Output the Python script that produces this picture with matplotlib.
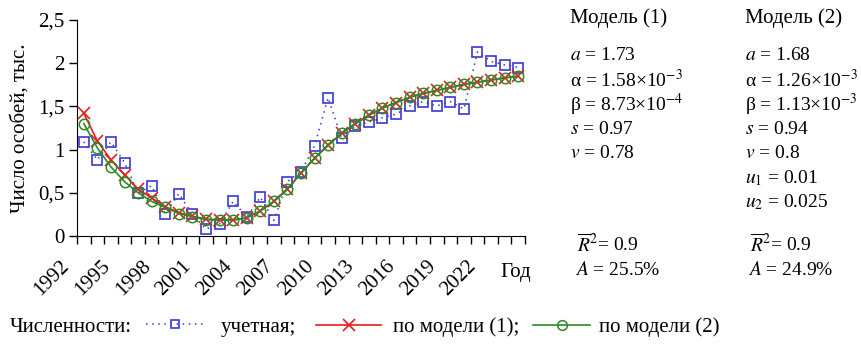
import numpy as np
import matplotlib
matplotlib.use("Agg")
import matplotlib.pyplot as plt
import matplotlib.transforms as mtransforms
from matplotlib.lines import Line2D

plt.rcParams['font.family'] = ['Liberation Serif', 'DejaVu Serif']
plt.rcParams['mathtext.fontset'] = 'stix'
plt.rcParams['font.size'] = 15

years = np.arange(1992, 2025)

# учетная численность
observed = [1.09, 0.88, 1.09, 0.85, 0.50, 0.58, 0.26, 0.49, 0.25, 0.08,
            0.14, 0.40, 0.22, 0.45, 0.18, 0.63, 0.745, 1.045, 1.60, 1.13,
            1.27, 1.32, 1.37, 1.41, 1.505, 1.555, 1.505, 1.555, 1.47, 2.13,
            2.02, 1.98, 1.95]
# по модели (1)
model1 = [1.42, 1.10, 0.88, 0.71, 0.54, 0.44, 0.34, 0.27, 0.23, 0.195,
          0.185, 0.185, 0.21, 0.29, 0.40, 0.54, 0.73, 0.90, 1.05, 1.19,
          1.30, 1.40, 1.48, 1.545, 1.605, 1.65, 1.685, 1.72, 1.755, 1.78,
          1.805, 1.83, 1.85]
# по модели (2)
model2 = [1.30, 1.02, 0.80, 0.63, 0.50, 0.40, 0.33, 0.26, 0.225, 0.19,
          0.185, 0.185, 0.21, 0.29, 0.40, 0.54, 0.73, 0.90, 1.05, 1.19,
          1.30, 1.40, 1.48, 1.545, 1.605, 1.65, 1.685, 1.72, 1.755, 1.78,
          1.805, 1.83, 1.85]

year_labels = list(range(1992, 2023, 3))
y_ticks = [0, 0.5, 1, 1.5, 2, 2.5]
y_labels = ['0', '0,5', '1', '1,5', '2', '2,5']

model1_text = ['$a$ = 1.73', 'α = 1.58×10$^{-3}$', 'β = 8.73×10$^{-4}$',
               '$s$ = 0.97', '$v$ = 0.78']
model2_text = ['$a$ = 1.68', 'α = 1.26×10$^{-3}$', 'β = 1.13×10$^{-3}$',
               '$s$ = 0.94', '$v$ = 0.8', '$u_1$ = 0.01', '$u_2$ = 0.025']
fit_text = [('$\\overline{R}^2$= 0.9', '$A$ = 25.5%'), ('$\\overline{R}^2$= 0.9', '$A$ = 24.9%')]

blue = '#3a3ad0'
red = '#e61e1e'
green = '#2a8a2a'

W, H = 861, 352
fig = plt.figure(figsize=(W / 100, H / 100), dpi=100)
ax = fig.add_axes([77 / W, 116 / H, 448 / W, 216 / H])

ax.plot(years, observed, color=blue, lw=1.1, dashes=(1, 3), marker='s', ms=7.5,
        mfc='none', mec=blue, mew=1.2, zorder=3)
ax.plot(years, model1, color=red, lw=1.2, marker='x', ms=8, mew=1.2, zorder=4)
ax.plot(years, model2, color=green, lw=1.2, marker='o', ms=7.5, mfc='none',
        mew=1.1, zorder=5)

ax.set_xlim(1991.5, 2024.5)
ax.set_ylim(0, 2.5)
ax.spines['top'].set_visible(False)
ax.spines['right'].set_visible(False)

ax.set_yticks(y_ticks)
ax.set_yticklabels(y_labels)
ax.tick_params(axis='y', length=6, width=1, pad=3)
ax.set_ylabel('Число особей, тыс.', labelpad=6)

# деления по границам лет, подписи - каждые 3 года, сдвинуты влево
ax.set_xticks(np.arange(1991.5, 2025, 1))
ax.set_xticklabels([])
ax.tick_params(axis='x', length=6, width=1)
offset = mtransforms.ScaledTranslation(-0.24, -0.21, fig.dpi_scale_trans)
for y in year_labels:
    ax.text(y, 0, str(y), rotation=45, ha='right', va='top',
            rotation_mode='anchor', transform=ax.get_xaxis_transform() + offset)

fig.text(500 / W, 1 - 272 / H, 'Год', ha='left', va='center')

# параметры моделей
line_h = 24.4
fig.text(570 / W, 1 - 18 / H, 'Модель (1)', ha='left', va='center')
fig.text(745 / W, 1 - 18 / H, 'Модель (2)', ha='left', va='center')
for i, s in enumerate(model1_text):
    fig.text(570 / W, 1 - (56 + i * line_h) / H, s, ha='left', va='center',
             fontsize=14)
for i, s in enumerate(model2_text):
    fig.text(745 / W, 1 - (56 + i * line_h) / H, s, ha='left', va='center',
             fontsize=14)
for (r2, a), x0 in zip(fit_text, (575, 748)):
    fig.text((x0 + 2) / W, 1 - 244 / H, r2, ha='left', va='center', fontsize=14)
    fig.text(x0 / W, 1 - 270 / H, a, ha='left', va='center', fontsize=14)

# легенда: каждый элемент отдельно, как в оригинале
fig.text(10 / W, 1 - 327 / H, 'Численности:', ha='left', va='center')
legend_items = [
    (Line2D([], [], color=blue, lw=1.1, dashes=(1, 3), marker='s', ms=6,
            mfc='none', mec=blue, mew=1.2), 'учетная;', 146, 2.74, 0.86),
    (Line2D([], [], color=red, lw=1.2, marker='x', ms=8, mew=1.2),
     'по модели (1);', 316, 3.12, 0.58),
    (Line2D([], [], color=green, lw=1.2, marker='o', ms=7, mfc='none', mew=1.1),
     'по модели (2)', 533, 2.74, 0.43),
]
for handle, label, x0, hl, pad in legend_items:
    fig.legend([handle], [label], loc='center left',
               bbox_to_anchor=(x0 / W, 1 - 327 / H), frameon=False,
               handlelength=hl, handletextpad=pad, numpoints=1,
               borderaxespad=0, borderpad=0)

fig.savefig('out.png', dpi=100)
